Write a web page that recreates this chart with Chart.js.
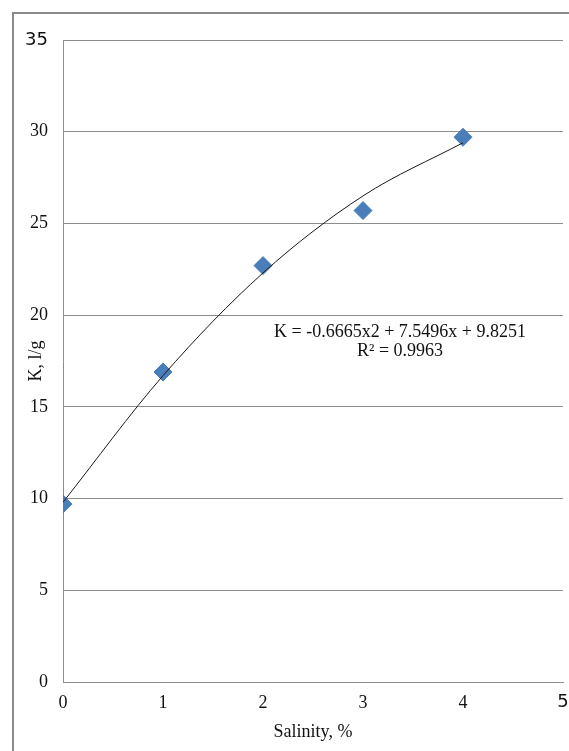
<!DOCTYPE html>
<html>
<head>
<meta charset="utf-8">
<script src="https://cdn.jsdelivr.net/npm/chart.js@4"></script>
<style>
  html, body { margin: 0; padding: 0; background: #fff; overflow: hidden; }
  #wrap { width: 569px; height: 751px; position: relative; }
  canvas { display: block; }
</style>
</head>
<body>
<div id="wrap"><canvas id="salinityChart"></canvas></div>
<script>
// measured points (diamonds)
const salinity = [0, 1, 2, 3, 4];
const kValues = [9.7, 16.9, 22.7, 25.7, 29.7];
// trend curve at each salinity
const trendValues = [9.8, 16.7, 22.3, 26.5, 29.4];
const equationLines = ['K = -0.6665x2 + 7.5496x + 9.8251', 'R\u00B2 = 0.9963'];

const serif = '"Liberation Serif", "Times New Roman", serif';
const sans = '"DejaVu Sans", "Noto Sans", sans-serif';
const gridGray = '#8c8c8c';

const frameAndLabel = {
    id: 'frameAndLabel',
    beforeDraw(chart) {
        const c = chart.ctx;
        c.save();
        c.fillStyle = '#fff';
        c.fillRect(0, 0, chart.width, chart.height);
        c.strokeStyle = '#8a8a8a';
        c.lineWidth = 2;
        c.beginPath();
        c.moveTo(13, chart.height);
        c.lineTo(13, 13);
        c.lineTo(chart.width, 13);
        c.stroke();
        c.restore();
    },
    afterDatasetsDraw(chart) {
        const c = chart.ctx;
        const xs = chart.scales.x, ys = chart.scales.y;
        c.save();
        c.fillStyle = '#111';
        c.font = '18px ' + serif;
        c.textAlign = 'center';
        c.textBaseline = 'middle';
        c.fillText(equationLines[0], xs.getPixelForValue(3.37), ys.getPixelForValue(19.05));
        c.fillText(equationLines[1], xs.getPixelForValue(3.37), ys.getPixelForValue(18.05));
        c.restore();
    }
};

// keep the last x label from pulling the plot area in
function noSideMargins(scale) {
    scale.paddingLeft = 0;
    scale.paddingRight = 0;
    if (scale._margins) {
        scale._margins.left = 0;
        scale._margins.right = 0;
    }
}

const ctx = document.getElementById('salinityChart').getContext('2d');
const salinityChart = new Chart(ctx, {
    type: 'scatter',
    data: {
        datasets: [
        {
            label: 'Trend',
            data: salinity.map((x, i) => ({ x: x, y: trendValues[i] })),
            showLine: true,
            borderColor: '#1a1a1a',
            borderWidth: 1,
            pointRadius: 0,
            cubicInterpolationMode: 'monotone'
        },
        {
            label: 'K',
            data: salinity.map((x, i) => ({ x: x, y: kValues[i] })),
            showLine: false,
            pointStyle: 'rectRot',
            pointRadius: 9,
            pointHoverRadius: 9,
            backgroundColor: '#4a7ebb',
            borderColor: '#4a7ebb',
            borderWidth: 1
        }
        ]
    },
    options: {
        responsive: true,
        maintainAspectRatio: false,
        animation: false,
        layout: {
            autoPadding: false,
            padding: { left: 20, right: 6, top: 40, bottom: 0 }
        },
        plugins: {
            legend: { display: false },
            tooltip: { enabled: false }
        },
        scales: {
            x: {
                type: 'linear',
                min: 0,
                max: 5,
                afterFit: (scale) => {
                    scale.height = 69;
                    noSideMargins(scale);
                },
                grid: { display: false, drawTicks: false },
                border: { display: true, color: gridGray, width: 1 },
                ticks: {
                    stepSize: 1,
                    padding: 10,
                    color: '#111',
                    font: (c) => ({ family: c.tick && c.tick.value === 5 ? sans : serif, size: 18 })
                },
                title: {
                    display: true,
                    text: 'Salinity, %',
                    color: '#111',
                    font: { family: serif, size: 18 },
                    padding: { top: 0, bottom: 8 }
                }
            },
            y: {
                min: 0,
                max: 35,
                afterFit: (scale) => {
                    scale.width = 43;
                    scale.paddingTop = 0;
                    scale.paddingBottom = 0;
                },
                grid: { color: gridGray, lineWidth: 1, drawTicks: false },
                border: { display: true, color: gridGray, width: 1 },
                ticks: {
                    stepSize: 5,
                    padding: 15,
                    color: '#111',
                    font: (c) => ({ family: c.tick && c.tick.value === 35 ? sans : serif, size: 18 })
                },
                title: {
                    display: true,
                    text: 'K, l/g',
                    color: '#111',
                    font: { family: serif, size: 18 },
                    padding: { top: 5, bottom: 0 }
                }
            }
        }
    },
    plugins: [frameAndLabel]
});
</script>
</body>
</html>
